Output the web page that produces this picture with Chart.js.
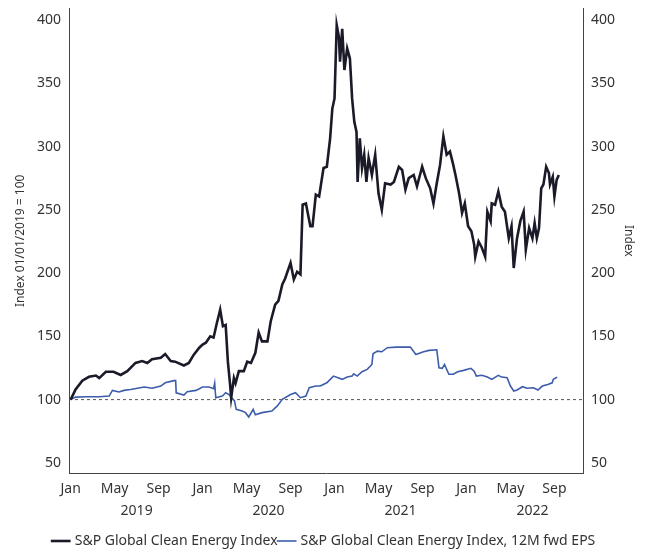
<!DOCTYPE html>
<html>
<head>
<meta charset="utf-8">
<script src="https://cdn.jsdelivr.net/npm/chart.js@4"></script>
<style>
  html, body { margin: 0; padding: 0; background: #fff; }
  #wrap { width: 646px; height: 554px; }
</style>
</head>
<body>
<div id="wrap"><canvas id="cleanChart" width="646" height="554"></canvas></div>
<script>
// x values are months since 1 Jan 2019
const indexMonths = [0, 0.45, 1.06, 1.67, 2.3, 2.6, 3.2, 3.9, 4.55, 5.15, 5.9, 6.5, 6.97, 7.4, 8.2, 8.6, 9.1, 9.5, 10.3, 10.75, 11.2, 11.7, 12.0, 12.3, 12.7, 13.0, 13.3, 13.6, 13.85, 14.1, 14.3, 14.5, 14.6, 14.85, 15.0, 15.3, 15.75, 16.06, 16.4, 16.8, 17.1, 17.4, 17.9, 18.2, 18.6, 18.9, 19.25, 19.5, 20.0, 20.3, 20.6, 20.9, 21.1, 21.4, 21.8, 22.0, 22.3, 22.6, 23.0, 23.3, 23.6, 23.8, 24.0, 24.2, 24.4, 24.5, 24.7, 24.9, 25.15, 25.4, 25.6, 25.8, 26.0, 26.1, 26.3, 26.5, 26.7, 26.9, 27.1, 27.4, 27.7, 28.0, 28.3, 28.6, 29.1, 29.4, 29.85, 30.15, 30.45, 30.75, 31.2, 31.5, 31.97, 32.3, 32.7, 33.0, 33.3, 33.6, 33.9, 34.2, 34.5, 34.8, 35.0, 35.3, 35.45, 35.6, 35.85, 36.15, 36.45, 36.7, 36.8, 37.1, 37.4, 37.7, 37.9, 38.2, 38.3, 38.6, 38.9, 39.2, 39.5, 39.85, 40.1, 40.3, 40.6, 40.9, 41.2, 41.4, 41.7, 42.0, 42.2, 42.4, 42.6, 42.8, 43.0, 43.25, 43.5, 43.6, 43.85, 44.0, 44.2, 44.4];
const indexValues = [100, 108, 115, 118, 119, 117, 122, 122, 119.5, 122.5, 129, 130.5, 129, 132, 133, 136, 130.5, 130, 127, 129, 135.5, 141, 143.5, 145, 150, 149, 160.5, 171, 158, 159, 130, 112, 101.5, 117, 113, 122.5, 122.5, 130, 129, 137, 153, 146, 146, 162, 175, 178, 191, 195.5, 208, 195, 201, 199, 254, 255, 237, 237, 262, 260.5, 283, 284, 306.5, 330, 338, 396, 386.5, 367, 393, 360.5, 377.5, 369.5, 338, 319.5, 311.5, 272, 306.5, 283, 293.5, 272, 291, 277.5, 293.5, 263, 250, 271, 270, 272, 284, 281.5, 266, 275, 277.5, 268.5, 284, 275, 267, 255, 271, 285.5, 308, 293.5, 296, 285.5, 277.5, 264.5, 256.5, 247.5, 255, 237, 233, 222.5, 213, 225, 220, 213, 248.5, 241, 255, 254, 264.5, 252.5, 248.5, 227.5, 237, 204, 227.5, 241, 248.5, 218.5, 235.5, 227.5, 239.5, 227.5, 235.5, 267, 270, 284, 279, 270, 276, 260.5, 273.5, 277.5];

const epsMonths = [0, 0.45, 1.4, 2.6, 3.5, 3.8, 4.4, 4.85, 5.45, 6.06, 6.7, 7.4, 8.2, 8.6, 9.4, 9.55, 9.6, 10.3, 10.6, 11.4, 12.0, 12.6, 13.0, 13.1, 13.2, 13.8, 14.1, 14.4, 14.7, 14.9, 15.06, 15.6, 15.9, 16.2, 16.6, 16.8, 17.4, 18.3, 18.8, 19.25, 20.0, 20.45, 20.9, 21.4, 21.7, 22.3, 22.7, 23.3, 23.9, 24.7, 25.15, 25.6, 25.75, 26.06, 26.5, 26.97, 27.4, 27.5, 27.9, 28.3, 28.8, 29.6, 30.9, 31.4, 32.1, 32.6, 33.3, 33.5, 33.8, 34.0, 34.4, 34.8, 35.2, 35.75, 36.4, 36.7, 36.9, 37.4, 37.9, 38.3, 38.9, 39.2, 39.7, 40.0, 40.3, 40.6, 41.1, 41.5, 42.1, 42.5, 42.9, 43.4, 43.8, 43.9, 44.25];
const epsValues = [100, 102, 102.3, 102.3, 102.8, 107.3, 106, 107.3, 108, 109, 110, 109, 110.7, 113.3, 115, 115, 105.4, 103.6, 106.2, 107.3, 110, 110, 108.6, 113, 101.5, 102.8, 105.4, 104, 101, 99, 92.3, 91, 89.7, 86.3, 92.3, 88, 89.7, 91, 95, 100.2, 104, 105.4, 101.5, 102.8, 109.4, 110.7, 110.7, 113.3, 118.6, 116, 117.8, 118.6, 120.4, 118.6, 122, 123.9, 127.8, 136.2, 138.3, 137.8, 141, 141.5, 141.5, 135.7, 137.8, 138.9, 139.4, 125.2, 124.7, 127.8, 120, 120, 122, 123.1, 124.7, 122.5, 118.6, 119.2, 117.8, 116, 119.2, 117.8, 117.3, 110.7, 106.8, 107.6, 110.2, 109, 109.4, 107.6, 110.7, 112, 113.3, 116, 117.8];

const monthTicks = [0, 4, 8, 12, 16, 20, 24, 28, 32, 36, 40, 44];
const monthNames = ['Jan', 'May', 'Sep'];
const yearTicks = [6, 18, 30, 42];
const yearNames = ['2019', '2020', '2021', '2022'];
const yTicks = [50, 100, 150, 200, 250, 300, 350, 400];
const baseLine = 100;

const xMin = -0.15, xMax = 46.6;
const font = '"Noto Sans", sans-serif';
const axisColor = '#444';
const textColor = '#333';

function pairs(xs, ys) {
  return xs.map((x, i) => ({ x: x, y: ys[i] }));
}

const data = {
  datasets: [
    {
      label: 'S&P Global Clean Energy Index',
      data: pairs(indexMonths, indexValues),
      borderColor: '#1a1a28',
      backgroundColor: '#1a1a28',
      borderWidth: 2.6,
      pointRadius: 0,
      tension: 0,
      yAxisID: 'y',
      order: 1
    },
    {
      label: 'S&P Global Clean Energy Index, 12M fwd EPS',
      data: pairs(epsMonths, epsValues),
      borderColor: '#3d5cab',
      backgroundColor: '#3d5cab',
      borderWidth: 1.6,
      pointRadius: 0,
      tension: 0,
      yAxisID: 'y',
      order: 2
    },
    {
      label: 'base',
      data: [{ x: xMin, y: baseLine }, { x: xMax, y: baseLine }],
      borderColor: '#555',
      borderWidth: 1,
      borderDash: [3, 3],
      pointRadius: 0,
      yAxisID: 'y',
      order: 3
    }
  ]
};

const config = {
  type: 'line',
  data: data,
  options: {
    responsive: false,
    animation: false,
    layout: { padding: { top: 0, bottom: -4, left: 13, right: 10 } },
    plugins: {
      tooltip: { enabled: false },
      legend: {
        position: 'bottom',
        labels: {
          filter: item => item.text !== 'base',
          usePointStyle: true,
          pointStyle: 'line',
          boxWidth: 14,
          padding: 2,
          color: textColor,
          font: { family: font, size: 14 }
        }
      }
    },
    scales: {
      x: {
        type: 'linear',
        min: xMin,
        max: xMax,
        afterBuildTicks: s => { s.ticks = monthTicks.map(v => ({ value: v })); },
        afterFit: s => { s.height = 28; },
        ticks: {
          autoSkip: false,
          maxRotation: 0,
          padding: 3,
          color: textColor,
          font: { family: font, size: 14 },
          callback: v => monthNames[Math.round(v / 4) % 3]
        },
        grid: { display: false, drawTicks: true, tickLength: 5, tickColor: axisColor },
        border: { display: true, color: axisColor, width: 1 }
      },
      xYear: {
        type: 'linear',
        position: 'bottom',
        min: xMin,
        max: xMax,
        afterBuildTicks: s => { s.ticks = yearTicks.map(v => ({ value: v })); },
        afterFit: s => { s.height = 31; },
        ticks: {
          autoSkip: false,
          maxRotation: 0,
          padding: 2,
          color: textColor,
          font: { family: font, size: 14 },
          callback: (v, i) => yearNames[i]
        },
        grid: { display: false, drawTicks: false },
        border: { display: false }
      },
      y: {
        position: 'left',
        min: 42,
        max: 409,
        afterBuildTicks: s => { s.ticks = yTicks.map(v => ({ value: v })); },
        afterFit: s => { s.width = 56; },
        ticks: {
          padding: 3,
          color: textColor,
          font: { family: font, size: 14, lineHeight: 0.8 }
        },
        title: {
          display: true,
          text: 'Index 01/01/2019 = 100',
          color: textColor,
          font: { family: font, size: 12 },
          padding: 0
        },
        grid: { display: false, drawTicks: true, tickLength: 5, tickColor: axisColor },
        border: { display: true, color: axisColor, width: 1 }
      },
      y2: {
        position: 'right',
        min: 42,
        max: 409,
        afterBuildTicks: s => { s.ticks = yTicks.map(v => ({ value: v })); },
        afterFit: s => { s.width = 53; },
        ticks: {
          padding: 3,
          color: textColor,
          font: { family: font, size: 14, lineHeight: 0.8 }
        },
        title: {
          display: true,
          text: 'Index',
          color: textColor,
          font: { family: font, size: 12 },
          padding: 0
        },
        grid: { display: false, drawTicks: true, tickLength: 5, tickColor: axisColor },
        border: { display: true, color: axisColor, width: 1 }
      }
    }
  }
};

var ctx = document.getElementById('cleanChart');
var myChart = new Chart(ctx, config);
</script>
</body>
</html>
